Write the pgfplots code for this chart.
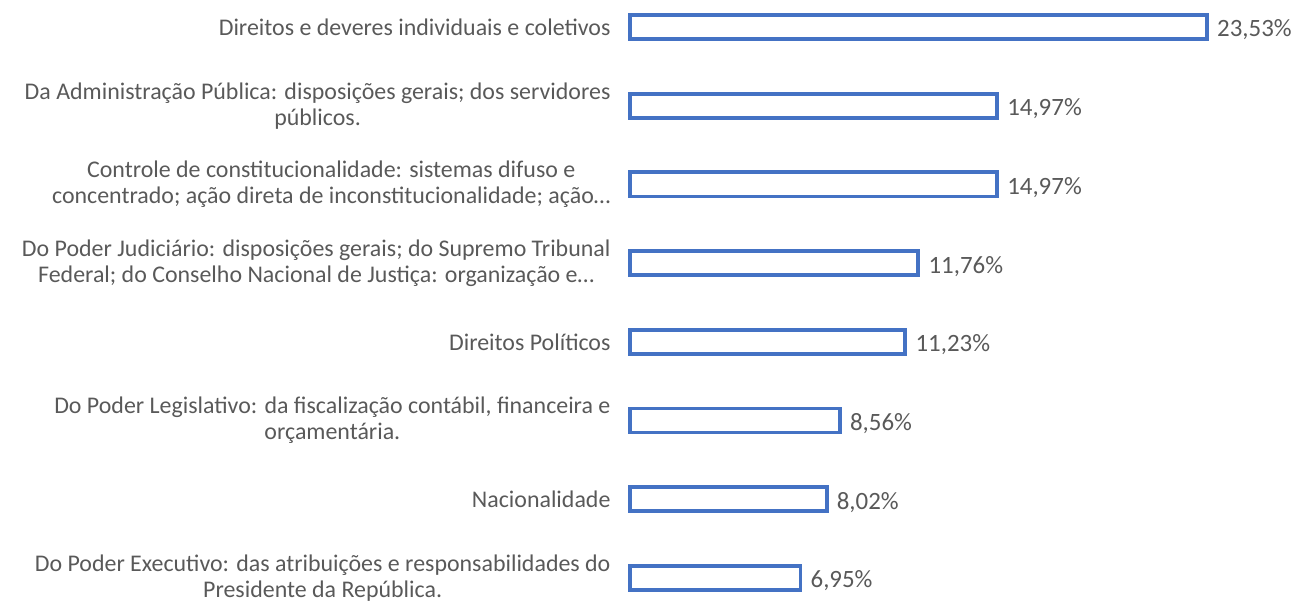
\documentclass[border=0pt]{standalone}
\usepackage{fontspec}
\setmainfont{Carlito}
\usepackage{pgfplots}
\pgfplotsset{compat=1.18}
\definecolor{barblue}{HTML}{4472C4}
\definecolor{lblgray}{HTML}{595959}
\definecolor{valgray}{HTML}{595959}
\begin{document}
\begin{tikzpicture}
\path[use as bounding box] (0,0) rectangle (1294bp,606bp);
\begin{axis}[
  at={(630bp,0bp)}, anchor=south west,
  scale only axis, width=662bp, height=606bp,
  xbar, bar width=24bp,
  xmin=0, xmax=27,
  ymin=-0.343, ymax=7.357, y dir=reverse,
  hide x axis,
  axis y line*=left,
  y axis line style={draw=none},
  ytick={0,1,2,3,4,5,6,7},
  yticklabels={
    {Direitos e deveres individuais e coletivos},
    {Da Administração Pública: disposições gerais; dos servidores\\públicos.},
    {Controle de constitucionalidade: sistemas difuso e\\concentrado; ação direta de inconstitucionalidade; ação…},
    {Do Poder Judiciário: disposições gerais; do Supremo Tribunal\\Federal; do Conselho Nacional de Justiça: organização e…},
    {Direitos Políticos},
    {Do Poder Legislativo: da fiscalização contábil, financeira e\\orçamentária.},
    {Nacionalidade},
    {Do Poder Executivo: das atribuições e responsabilidades do\\Presidente da República.}},
  yticklabel style={align=center, font=\fontsize{24}{26}\selectfont, text=lblgray, xshift=-16bp},
  major tick length=0pt,
  point meta=explicit symbolic,
  nodes near coords,
  every node near coord/.append style={font=\fontsize{25}{28}\selectfont, text=valgray, anchor=west, xshift=5bp, yshift=-3bp},
  clip=false,
]
\addplot[draw=barblue, fill=white, line width=3.8bp] coordinates {
  (23.53,0) [23,53\%]
  (14.97,1) [14,97\%]
  (14.97,2) [14,97\%]
  (11.76,3) [11,76\%]
  (11.23,4) [11,23\%]
  (8.56,5) [8,56\%]
  (8.02,6) [8,02\%]
  (6.95,7) [6,95\%]
};
\end{axis}
\end{tikzpicture}
\end{document}
